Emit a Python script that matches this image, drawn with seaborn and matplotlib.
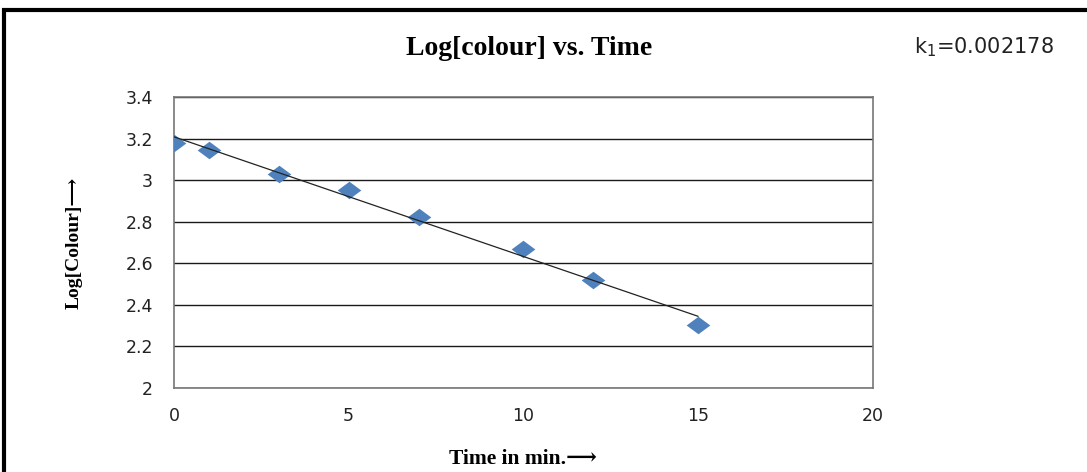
import numpy as np
import pandas as pd
import seaborn as sns
import matplotlib.pyplot as plt
from matplotlib.path import Path
from matplotlib.patches import Rectangle

sns.set_theme(style="white")
plt.rcParams['font.family'] = ['DejaVu Sans']

# values
time_min = [0, 1, 3, 5, 7, 10, 12, 15]
log_colour = [3.179, 3.145, 3.030, 2.953, 2.823, 2.669, 2.520, 2.303]
x_ticks = [0, 5, 10, 15, 20]
y_ticks = [2, 2.2, 2.4, 2.6, 2.8, 3, 3.2, 3.4]
y_tick_labels = ['2', '2.2', '2.4', '2.6', '2.8', '3', '3.2', '3.4']
k1_label = 'k$_1$=0.002178'

df = pd.DataFrame({'time': time_min, 'logc': log_colour})

# wide diamond like the excel marker
diamond = Path([(-1.35, 0), (0, 1), (1.35, 0), (0, -1), (-1.35, 0)],
               [Path.MOVETO, Path.LINETO, Path.LINETO, Path.LINETO, Path.CLOSEPOLY])

fig = plt.figure(figsize=(10.87, 4.72), dpi=100)
ax = fig.add_axes([0.160, 0.178, 0.643, 0.616])

sns.regplot(data=df, x='time', y='logc', ax=ax, ci=None, truncate=True,
            marker=diamond,
            scatter_kws={'s': 290, 'color': '#4F81BD', 'alpha': 1,
                         'linewidths': 0, 'zorder': 3},
            line_kws={'color': '#222222', 'linewidth': 0.9, 'zorder': 4})

ax.set_xlim(0, 20)
ax.set_ylim(2, 3.4)
ax.set_xticks(x_ticks)
ax.set_yticks(y_ticks)
ax.set_yticklabels(y_tick_labels)
ax.tick_params(axis='both', length=0, labelsize=12.5, colors='#222222')
ax.tick_params(axis='y', pad=15)
ax.tick_params(axis='x', pad=14)
ax.grid(axis='y', color='#1a1a1a', linewidth=1.0)
ax.grid(axis='x', visible=False)
ax.set_axisbelow(True)
for s in ax.spines.values():
    s.set_color('#777777')
    s.set_linewidth(1.2)

ax.set_xlabel('Time in min.\u27f6', family=['Liberation Serif', 'DejaVu Serif'],
              fontweight='bold', fontsize=15.5, labelpad=17, color='black')
ax.set_ylabel('Log[Colour]\u27f6', family=['Liberation Serif', 'DejaVu Serif'],
              fontweight='bold', fontsize=14, labelpad=31, color='black')

fig.text(0.487, 0.898, 'Log[colour] vs. Time', family='Liberation Serif',
         fontweight='bold', fontsize=20, ha='center', va='center', color='black')
fig.text(0.905, 0.900, k1_label, fontsize=15, ha='center', va='center',
         color='#222222')

# outer chart frame
fig.patches.append(Rectangle((0.004, -0.05), 1.05, 1.029, transform=fig.transFigure,
                             fill=False, edgecolor='black', linewidth=3))

fig.savefig('out.png', dpi=100)
